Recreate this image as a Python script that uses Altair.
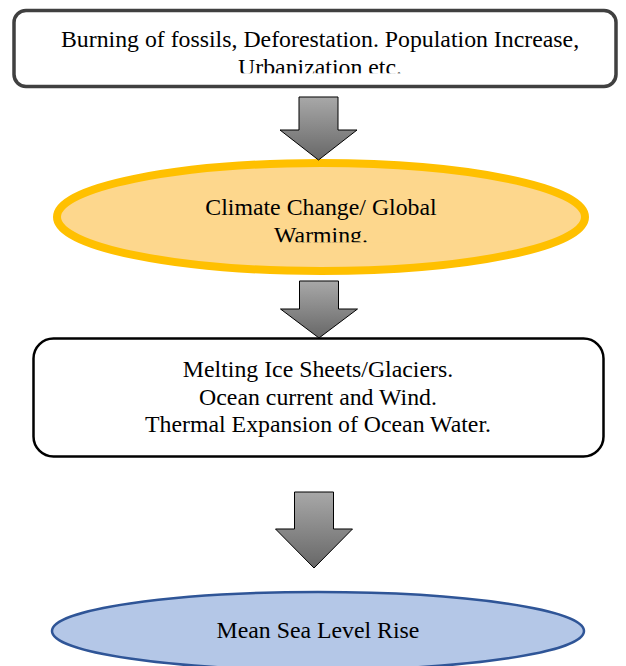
import altair as alt
import pandas as pd

# ---- content (flow steps, top to bottom) ----
step_lines = [
    ["Burning of fossils, Deforestation. Population Increase,", "Urbanization etc."],
    ["Climate Change/ Global", "Warming."],
    ["Melting Ice Sheets/Glaciers.", "Ocean current and Wind.", "Thermal Expansion of Ocean Water."],
    ["Mean Sea Level Rise"],
]
step_kind = ["box", "ellipse", "box", "ellipse"]

# ---- layout (pixel space of the 626x666 page) ----
step_cx = [315, 321, 318.5, 318]
step_cy = [48.5, 217, 397.5, 631]
step_w = [602, 528, 570, 532]
step_h = [76, 108, 118, 78]
step_fill = ["#ffffff", "#fdd78d", "#ffffff", "#b4c7e7"]
step_stroke = ["#404040", "#ffc000", "#000000", "#2f5597"]
step_stroke_w = [3.5, 8, 2.5, 2.5]
step_radius = [12, 0, 20, 0]
text_cx = [320, 321, 318, 318]
text_first = [40, 208, 370, 631]
line_gap = 27.7
font_size = 23.8

arrow_cx = [318.5, 319, 314]
arrow_top = [97, 281, 492]
arrow_neck = [130, 309, 529]
arrow_tip = [160, 338, 568]
shaft_half = 19.5
head_half = 38.5

# text cut off at the bottom of its frame in the original
clip_step = [0, 1]
clip_y = [73.3, 242.3]
clip_bottom = [84, 256]
clip_half_w = [120, 70]

PLOT_W, PLOT_H = 610, 658
X = alt.Scale(domain=[8, 8 + PLOT_W], zero=False, nice=False)
Y = alt.Scale(domain=[8, 8 + PLOT_H], reverse=True, zero=False, nice=False)


def ex(field):
    return alt.X(field, type="quantitative", scale=X, axis=None)


def ey(field):
    return alt.Y(field, type="quantitative", scale=Y, axis=None)


layers = []

# shapes
for i, kind in enumerate(step_kind):
    if kind == "box":
        df = pd.DataFrame({
            "x0": [step_cx[i] - step_w[i] / 2], "x1": [step_cx[i] + step_w[i] / 2],
            "y0": [step_cy[i] - step_h[i] / 2], "y1": [step_cy[i] + step_h[i] / 2],
        })
        layers.append(
            alt.Chart(df).mark_rect(
                fill=step_fill[i], stroke=step_stroke[i], strokeWidth=step_stroke_w[i],
                cornerRadius=step_radius[i], opacity=1,
            ).encode(x=ex("x0"), x2="x1", y=ey("y0"), y2="y1")
        )
    else:
        r = step_h[i] / step_w[i]
        k = 0.5523
        path = (
            f"M -1 0 C -1 {-k*r:.5f} {-k:.5f} {-r:.5f} 0 {-r:.5f} "
            f"C {k:.5f} {-r:.5f} 1 {-k*r:.5f} 1 0 "
            f"C 1 {k*r:.5f} {k:.5f} {r:.5f} 0 {r:.5f} "
            f"C {-k:.5f} {r:.5f} -1 {k*r:.5f} -1 0 Z"
        )
        df = pd.DataFrame({"cx": [step_cx[i]], "cy": [step_cy[i]]})
        layers.append(
            alt.Chart(df).mark_point(
                shape=path, size=step_w[i] ** 2, filled=True, fill=step_fill[i],
                stroke=step_stroke[i], strokeWidth=step_stroke_w[i], opacity=1,
            ).encode(x=ex("cx"), y=ey("cy"))
        )

# arrows (block arrows pointing down)
gradient = {
    "gradient": "linear", "x1": 0, "y1": 0, "x2": 0, "y2": 1,
    "stops": [{"offset": 0, "color": "#a8a8a8"}, {"offset": 1, "color": "#676767"}],
}
for a in range(len(arrow_cx)):
    cy = (arrow_top[a] + arrow_tip[a]) / 2
    hh = head_half
    s = shaft_half / hh
    t = (arrow_top[a] - cy) / hh
    n = (arrow_neck[a] - cy) / hh
    b = (arrow_tip[a] - cy) / hh
    path = (
        f"M {-s:.4f} {t:.4f} L {s:.4f} {t:.4f} L {s:.4f} {n:.4f} L 1 {n:.4f} "
        f"L 0 {b:.4f} L -1 {n:.4f} L {-s:.4f} {n:.4f} Z"
    )
    df = pd.DataFrame({"cx": [arrow_cx[a]], "cy": [cy]})
    layers.append(
        alt.Chart(df).mark_point(
            shape=path, size=(2 * hh) ** 2, filled=True, fill=gradient,
            stroke="#000000", strokeWidth=1, strokeJoin="miter", opacity=1,
        ).encode(x=ex("cx"), y=ey("cy"))
    )

# text
trows = []
for i, lines in enumerate(step_lines):
    for j, tx in enumerate(lines):
        trows.append({"text": tx, "x": text_cx[i], "y": text_first[i] + j * line_gap})
text_df = pd.DataFrame(trows)
layers.append(
    alt.Chart(text_df).mark_text(
        font="Liberation Serif", fontSize=font_size, color="#000000",
        align="center", baseline="middle",
    ).encode(x=ex("x"), y=ey("y"), text="text:N")
)

# masks reproducing the cut-off last lines
mrows = []
for m, st in enumerate(clip_step):
    mrows.append({
        "x0": text_cx[st] - clip_half_w[m], "x1": text_cx[st] + clip_half_w[m],
        "y0": clip_y[m], "y1": clip_bottom[m], "fill": step_fill[st],
    })
mask_df = pd.DataFrame(mrows)
layers.append(
    alt.Chart(mask_df).mark_rect(opacity=1, strokeWidth=0).encode(
        x=ex("x0"), x2="x1", y=ey("y0"), y2="y1",
        fill=alt.Fill("fill:N", scale=None),
    )
)

chart = alt.layer(*layers).properties(
    width=PLOT_W, height=PLOT_H, padding=0,
    autosize=alt.AutoSizeParams(type="none"),
).configure_view(stroke=None)

chart.save("out.html", embed_options={"renderer": "svg", "actions": False})
